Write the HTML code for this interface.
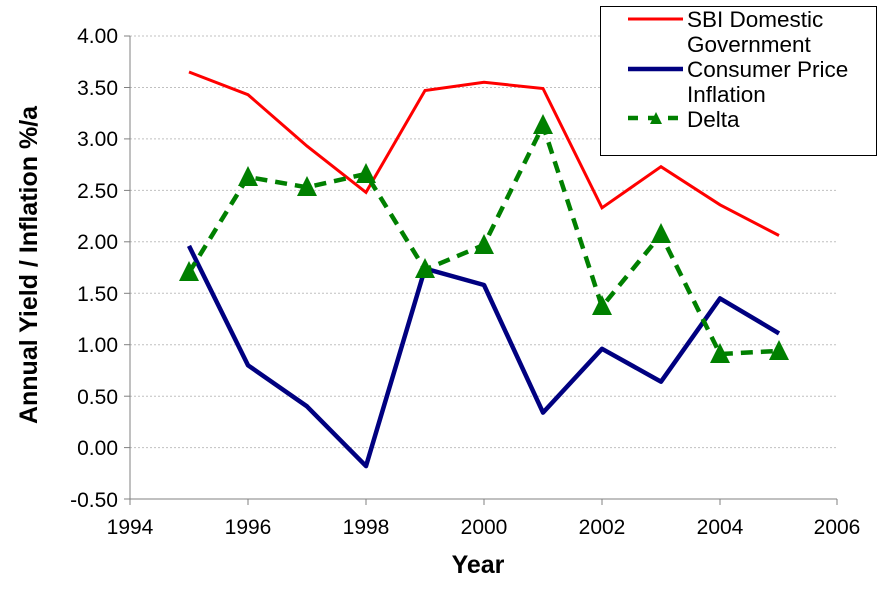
<!DOCTYPE html>
<html><head><style>body{margin:0;background:#fff}</style></head><body>
<svg width="892" height="585" xmlns="http://www.w3.org/2000/svg" font-family="Liberation Sans, Arial, sans-serif">
<rect width="892" height="585" fill="#fff"/>
<g stroke="#c0c0c0" stroke-dasharray="2,2" stroke-width="1">
<line x1="130" x2="837" y1="36" y2="36"/><line x1="130" x2="837" y1="87.5" y2="87.5"/><line x1="130" x2="837" y1="138.9" y2="138.9"/><line x1="130" x2="837" y1="190.4" y2="190.4"/><line x1="130" x2="837" y1="241.8" y2="241.8"/><line x1="130" x2="837" y1="293.3" y2="293.3"/><line x1="130" x2="837" y1="344.7" y2="344.7"/><line x1="130" x2="837" y1="396.2" y2="396.2"/><line x1="130" x2="837" y1="447.6" y2="447.6"/>
</g>
<g stroke="#808080" stroke-width="1">
<line x1="130" y1="36" x2="130" y2="499"/><line x1="130" y1="499" x2="837" y2="499"/>
<line x1="124" x2="130" y1="36" y2="36"/><line x1="124" x2="130" y1="87.5" y2="87.5"/><line x1="124" x2="130" y1="138.9" y2="138.9"/><line x1="124" x2="130" y1="190.4" y2="190.4"/><line x1="124" x2="130" y1="241.8" y2="241.8"/><line x1="124" x2="130" y1="293.3" y2="293.3"/><line x1="124" x2="130" y1="344.7" y2="344.7"/><line x1="124" x2="130" y1="396.2" y2="396.2"/><line x1="124" x2="130" y1="447.6" y2="447.6"/><line x1="124" x2="130" y1="499" y2="499"/>
<line x1="130" x2="130" y1="499" y2="505"/><line x1="248" x2="248" y1="499" y2="505"/><line x1="366" x2="366" y1="499" y2="505"/><line x1="484" x2="484" y1="499" y2="505"/><line x1="602" x2="602" y1="499" y2="505"/><line x1="720" x2="720" y1="499" y2="505"/><line x1="837" x2="837" y1="499" y2="505"/>
</g>
<g font-size="21" text-anchor="end" fill="#000">
<text x="118" y="43">4.00</text><text x="118" y="95">3.50</text><text x="118" y="146">3.00</text><text x="118" y="198">2.50</text><text x="118" y="249">2.00</text><text x="118" y="301">1.50</text><text x="118" y="352">1.00</text><text x="118" y="404">0.50</text><text x="118" y="455">0.00</text><text x="118" y="507">-0.50</text>
</g>
<g font-size="21" text-anchor="middle">
<text x="130" y="534">1994</text><text x="248" y="534">1996</text><text x="366" y="534">1998</text><text x="484" y="534">2000</text><text x="602" y="534">2002</text><text x="720" y="534">2004</text><text x="837" y="534">2006</text>
</g>
<text x="478" y="573" font-size="25" font-weight="bold" text-anchor="middle">Year</text>
<text transform="translate(37,265) rotate(-90)" font-size="25" font-weight="bold" text-anchor="middle">Annual Yield / Inflation %/a</text>
<polyline fill="none" stroke="#ff0000" stroke-width="3" points="189,72 248,94.7 307,146.1 366,192.4 425,90.5 484,82.3 543,88.5 602,207.8 661,166.7 720,204.8 779,235.5"/>
<polyline fill="none" stroke="#000080" stroke-width="4.5" stroke-linejoin="round" points="189,245.9 248,365.3 307,406.4 366,466.1 425,268.6 484,285 543,412.6 602,348.8 661,381.7 720,298.4 779,333.4"/>
<polyline fill="none" stroke="#008000" stroke-width="4.5" stroke-dasharray="12,8" points="189,272.7 248,177 307,187.3 366,173.9 425,269.6 484,244.9 543,125.5 602,306.6 661,234.6 720,354 779,350.9"/>
<g fill="#008000">
<polygon points="189,261 179,281 199,281"/><polygon points="248,166 238,186 258,186"/><polygon points="307,176 297,196 317,196"/><polygon points="366,163 356,183 376,183"/><polygon points="425,258 415,278 435,278"/><polygon points="484,234 474,254 494,254"/><polygon points="543,114 533,134 553,134"/><polygon points="602,295 592,315 612,315"/><polygon points="661,223 651,243 671,243"/><polygon points="720,343 710,363 730,363"/><polygon points="779,340 769,360 789,360"/>
</g>
<rect x="600.5" y="6.5" width="276" height="149" fill="#fff" stroke="#000" stroke-width="1"/>
<line x1="628" x2="683" y1="19" y2="19" stroke="#ff0000" stroke-width="3"/>
<line x1="628" x2="683" y1="69" y2="69" stroke="#000080" stroke-width="4.5"/>
<line x1="628" x2="683" y1="118" y2="118" stroke="#008000" stroke-width="4.5" stroke-dasharray="10,10"/>
<polygon points="656,112 650,124 662,124" fill="#008000"/>
<g font-size="22.5">
<text x="687" y="27">SBI Domestic</text><text x="687" y="52">Government</text><text x="687" y="77">Consumer Price</text><text x="687" y="102">Inflation</text><text x="687" y="127">Delta</text>
</g>
</svg>
</body></html>
